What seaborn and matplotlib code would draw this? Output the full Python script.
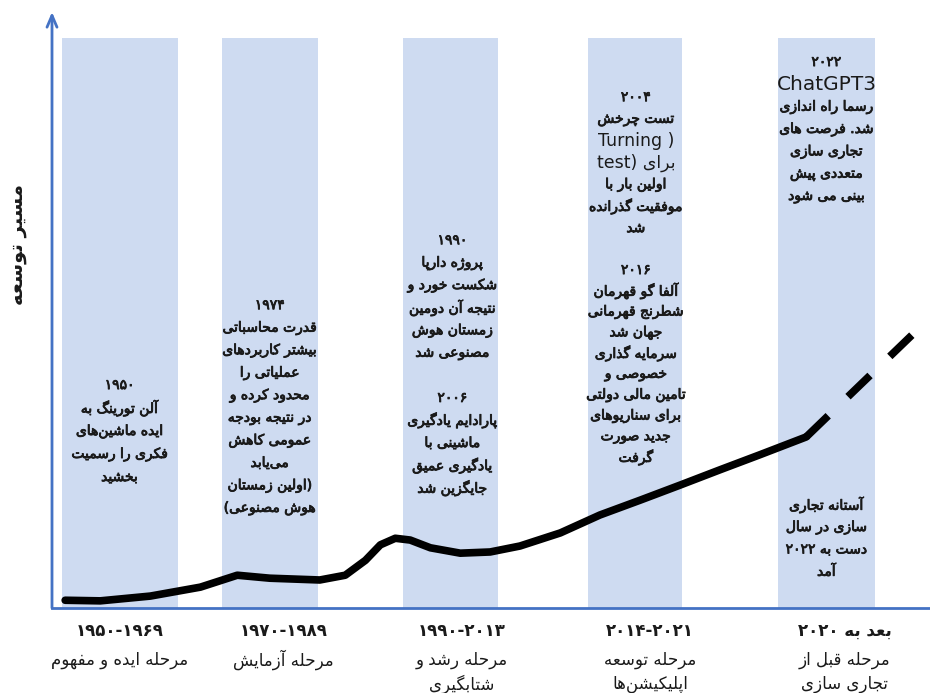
import matplotlib
matplotlib.use('Agg')
import matplotlib.pyplot as plt
import matplotlib.transforms as mtransforms
import matplotlib.patheffects as pe
import seaborn as sns
from matplotlib import font_manager
from matplotlib.ft2font import FT2Font

# development path (x: position along the time axis 0-100, y: level 0-100)
path_x = [1.5, 5.5, 11.2, 16.9, 21.1, 24.8, 30.5, 33.4, 35.7, 37.4, 39.1, 40.8,
          43.1, 46.5, 49.9, 53.3, 57.9, 62.4, 67.0, 71.5, 76.1, 80.6, 85.9]
path_y = [1.3, 1.2, 2.0, 3.5, 5.5, 5.0, 4.7, 5.5, 8.0, 10.6, 11.7, 11.4,
          10.1, 9.2, 9.4, 10.4, 12.6, 15.6, 18.1, 20.6, 23.2, 25.7, 28.7]
# forecast part (dashed)
future_x = [85.9, 98.3]
future_y = [28.7, 46.3]

# phases
band_left = [1.1, 19.4, 40.0, 61.0, 82.7]
band_right = [14.4, 30.3, 50.8, 71.8, 93.7]
period_x = [7.7, 26.4, 46.7, 68.1, 90.3]
period_years = ["۱۹۵۰-۱۹۶۹", "۱۹۷۰-۱۹۸۹", "۱۹۹۰-۲۰۱۳", "۲۰۱۴-۲۰۲۱", "۲۰۲۰ به بعد"]
period_names = [["مرحله ایده و مفهوم"], ["مرحله آزمایش"], ["مرحله رشد و", "شتابگیری"],
                ["مرحله توسعه", "اپلیکیشن‌ها"], ["مرحله قبل از", "تجاری سازی"]]

# notes in each phase
notes_1 = ["۱۹۵۰", "آلن تورینگ به", "ایده ماشین‌های", "فکری را رسمیت", "بخشید"]
notes_2 = ["۱۹۷۴", "قدرت محاسباتی", "بیشتر کاربردهای", "عملیاتی را", "محدود کرده و",
           "در نتیجه بودجه", "عمومی کاهش", "می‌یابد", "(اولین زمستان", "هوش مصنوعی)"]
notes_3 = ["۱۹۹۰", "پروژه دارپا", "شکست خورد و", "نتیجه آن دومین", "زمستان هوش",
           "مصنوعی شد", "", "۲۰۰۶", "پارادایم یادگیری", "ماشینی با", "یادگیری عمیق",
           "جایگزین شد"]
notes_4a = ["۲۰۰۴", "تست چرخش", "Turning )", "test) برای", "اولین بار با",
            "موفقیت گذرانده", "شد"]
notes_4b = ["۲۰۱۶", "آلفا گو قهرمان", "شطرنج قهرمانی", "جهان شد", "سرمایه گذاری",
            "خصوصی و", "تامین مالی دولتی", "برای سناریوهای", "جدید صورت", "گرفت"]
notes_5a = ["۲۰۲۲", "ChatGPT3", "رسما راه اندازی", "شد. فرصت های", "تجاری سازی",
            "متعددی پیش", "بینی می شود"]
notes_5b = ["آستانه تجاری", "سازی در سال", "۲۰۲۲ به دست", "آمد"]

y_label = "مسیر توسعه"

# ---- minimal Persian shaping (matplotlib has no RTL/joining support) ----
CMAP = FT2Font(font_manager.findfont('DejaVu Sans')).get_charmap()
ZWNJ = '\u200c'
MIRROR = {'(': ')', ')': '('}
FORMS = {
    'ا': (0xFE8D, 0xFE8E), 'آ': (0xFE81, 0xFE82), 'أ': (0xFE83, 0xFE84),
    'د': (0xFEA9, 0xFEAA), 'ذ': (0xFEAB, 0xFEAC), 'ر': (0xFEAD, 0xFEAE),
    'ز': (0xFEAF, 0xFEB0), 'ژ': (0xFB8A, 0xFB8B), 'و': (0xFEED, 0xFEEE),
    'ب': (0xFE8F, 0xFE90, 0xFE91, 0xFE92), 'پ': (0xFB56, 0xFB57, 0xFB58, 0xFB59),
    'ت': (0xFE95, 0xFE96, 0xFE97, 0xFE98), 'ث': (0xFE99, 0xFE9A, 0xFE9B, 0xFE9C),
    'ج': (0xFE9D, 0xFE9E, 0xFE9F, 0xFEA0), 'چ': (0xFB7A, 0xFB7B, 0xFB7C, 0xFB7D),
    'ح': (0xFEA1, 0xFEA2, 0xFEA3, 0xFEA4), 'خ': (0xFEA5, 0xFEA6, 0xFEA7, 0xFEA8),
    'س': (0xFEB1, 0xFEB2, 0xFEB3, 0xFEB4), 'ش': (0xFEB5, 0xFEB6, 0xFEB7, 0xFEB8),
    'ص': (0xFEB9, 0xFEBA, 0xFEBB, 0xFEBC), 'ض': (0xFEBD, 0xFEBE, 0xFEBF, 0xFEC0),
    'ط': (0xFEC1, 0xFEC2, 0xFEC3, 0xFEC4), 'ظ': (0xFEC5, 0xFEC6, 0xFEC7, 0xFEC8),
    'ع': (0xFEC9, 0xFECA, 0xFECB, 0xFECC), 'غ': (0xFECD, 0xFECE, 0xFECF, 0xFED0),
    'ف': (0xFED1, 0xFED2, 0xFED3, 0xFED4), 'ق': (0xFED5, 0xFED6, 0xFED7, 0xFED8),
    'ک': (0xFB8E, 0xFB8F, 0xFB90, 0xFB91), 'گ': (0xFB92, 0xFB93, 0xFB94, 0xFB95),
    'ل': (0xFEDD, 0xFEDE, 0xFEDF, 0xFEE0), 'م': (0xFEE1, 0xFEE2, 0xFEE3, 0xFEE4),
    'ن': (0xFEE5, 0xFEE6, 0xFEE7, 0xFEE8), 'ه': (0xFEE9, 0xFEEA, 0xFEEB, 0xFEEC),
    'ی': (0xFBFC, 0xFBFD, 0xFBFE, 0xFBFF), 'ئ': (0xFE89, 0xFE8A, 0xFE8B, 0xFE8C),
}
LAM_ALEF = {'ا': (0xFEFB, 0xFEFC), 'آ': (0xFEF5, 0xFEF6)}


def glyph(code, base):
    return chr(code) if code in CMAP else base


def shape_word(w):
    n = len(w)

    def joins_next(k):
        return (k + 1 < n and w[k] in FORMS and len(FORMS[w[k]]) == 4
                and w[k + 1] in FORMS)

    out = []
    i = 0
    while i < n:
        c = w[i]
        if c == ZWNJ:
            i += 1
            continue
        if c not in FORMS:
            out.append(MIRROR.get(c, c))
            i += 1
            continue
        prev = i > 0 and joins_next(i - 1)
        if c == 'ل' and i + 1 < n and w[i + 1] in LAM_ALEF:
            lig = LAM_ALEF[w[i + 1]]
            out.append(glyph(lig[1] if prev else lig[0], c + w[i + 1]))
            i += 2
            continue
        f = FORMS[c]
        nxt = joins_next(i)
        if len(f) == 2:
            code = f[1] if prev else f[0]
        elif prev and nxt:
            code = f[3]
        elif prev:
            code = f[1]
        elif nxt:
            code = f[2]
        else:
            code = f[0]
        out.append(glyph(code, c))
        i += 1
    return ''.join(reversed(out))


def fa(line):
    words = line.split(' ')
    is_ar = [any(ch in FORMS for ch in w) for w in words]
    shaped = [shape_word(w) if a else w for w, a in zip(words, is_ar)]
    if is_ar and is_ar[0]:
        shaped = shaped[::-1]
    return ' '.join(shaped)


# ---- plot ----
sns.set_theme(style='white')
plt.rcParams['font.family'] = ['DejaVu Sans']

blue = '#4472C4'
band_color = '#CEDBF1'
text_color = '#1a1a1a'
heavy = [pe.withStroke(linewidth=0.6, foreground=text_color)]

fig = plt.figure(figsize=(9.3, 6.93), dpi=100)
ax = fig.add_axes([52 / 930, 85 / 693, 878 / 930, 596 / 693])
ax.set_xlim(0, 100)
ax.set_ylim(0, 100)

for l, r in zip(band_left, band_right):
    ax.axvspan(l, r, ymin=0, ymax=0.956, color=band_color, lw=0, zorder=0)

sns.lineplot(x=path_x, y=path_y, sort=False, estimator=None, color='black',
             linewidth=5.5, solid_capstyle='round', solid_joinstyle='round',
             ax=ax, zorder=3)
sns.lineplot(x=future_x, y=future_y, sort=False, estimator=None, color='black',
             linewidth=5.5, linestyle=(0, (4, 3.6)), dash_capstyle='butt',
             ax=ax, zorder=3)

# axes with arrows
for s in ['top', 'right', 'left']:
    ax.spines[s].set_visible(False)
ax.spines['bottom'].set_color(blue)
ax.spines['bottom'].set_linewidth(2)
ax.annotate('', xy=(0, 1), xytext=(0, 0), xycoords='axes fraction',
            arrowprops=dict(arrowstyle='->,head_length=0.7,head_width=0.3',
                            color=blue, lw=2, shrinkA=0, shrinkB=0),
            annotation_clip=False)

ax.set_yticks([])
ax.set_xticks(period_x)
ax.set_xticklabels([fa(s) for s in period_years], fontsize=12,
                   fontweight='bold', color=text_color)
ax.tick_params(axis='x', length=0, pad=10)

ax.set_ylabel(fa(y_label), fontsize=14, fontweight='bold', color=text_color)
ax.yaxis.set_label_coords(-0.029, 0.61)

# phase names below the axis
trans = mtransforms.blended_transform_factory(ax.transData, ax.transAxes)
for x, names in zip(period_x, period_names):
    for i, name in enumerate(names):
        ax.text(x, -0.087 - i * 0.041, fa(name), transform=trans, ha='center',
                va='center', fontsize=12, color=text_color, clip_on=False)


def put_lines(x, y0, step, lines):
    for i, line in enumerate(lines):
        if not line:
            continue
        size = 10
        effects = heavy
        if 'ChatGPT' in line:
            size, effects = 14.5, None
        elif any('a' <= ch.lower() <= 'z' for ch in line):
            size, effects = 12.5, None
        ax.text(x, y0 - i * step, fa(line), ha='center', va='center',
                fontsize=size, color=text_color, path_effects=effects, zorder=4)


put_lines(7.7, 37.4, 3.86, notes_1)
put_lines(24.8, 50.8, 3.78, notes_2)
put_lines(45.6, 61.7, 3.78, notes_3)
put_lines(66.5, 85.7, 3.66, notes_4a)
put_lines(66.5, 56.7, 3.49, notes_4b)
put_lines(88.2, 91.6, 3.75, notes_5a)
put_lines(88.2, 17.3, 3.74, notes_5b)

fig.savefig('out.png', dpi=100)
